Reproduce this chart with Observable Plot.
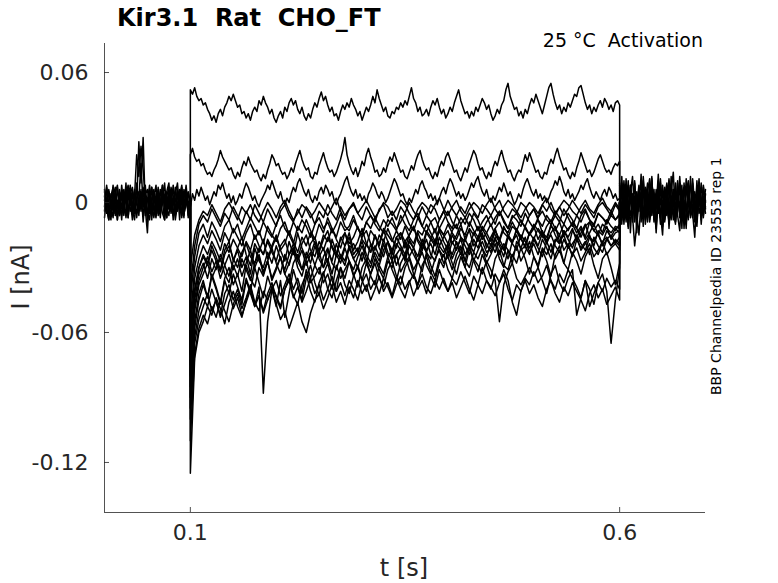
<!DOCTYPE html>
<html>
<head>
<meta charset="utf-8">
<script src="https://cdn.jsdelivr.net/npm/d3@7"></script>
<script src="https://cdn.jsdelivr.net/npm/@observablehq/plot@0.6"></script>
<style>
  html, body { margin: 0; padding: 0; background: white; }
</style>
</head>
<body>
<div id="chart"></div>
<script>
// ---- Data (current in pA; converted to nA for plotting) ----
const titleText = "Kir3.1  Rat  CHO_FT";
const conditionText = "25 °C  Activation";
const sourceText = "BBP Channelpedia ID 23553 rep 1";
const xLabel = "t [s]";
const yLabel = "I [nA]";

const xTicks = [0.1, 0.6];
const xTickLabels = ["0.1", "0.6"];
const yTicks = [-0.12, -0.06, 0, 0.06];
const yTickLabels = ["-0.12", "-0.06", "0", "0.06"];

const xDomain = [0, 0.7];
const yDomain = [-0.1431, 0.0734];

const stepStart = 0.1, stepEnd = 0.6;
const preDt = 0.0025;   // sampling of holding segment before step
const postDt = 0.0025;  // sampling of segment after step

// holding segment 0 - 0.1 s (pA)
const pre1 = [3,-5,6,-2,-7,4,8,-3,-6,2, 7,-4,1,-8,5,-1,28,9,30,-3, -14,6,-5,2,8,-6,-2,7,3,-7, 5,-1,-6,4,9,-3,-5,6,1,-4, 2];
const pre2 = [-4,7,-1,-6,5,2,-8,6,-3,4, -7,1,8,-5,3,22,12,26,15,2, -6,3,-8,5,-2,6,-5,1,9,-3, -6,4,-1,7,-4,3,8,-6,2,5, -3];
const pre3 = [6,-3,-8,4,1,-5,7,-2,5,-6, 3,8,-4,-1,6,-7,2,18,-2,5, -9,1,7,-4,-7,3,-1,8,-5,2, -3,6,-8,1,5,-2,7,-5,-1,4, 0];
const pre4 = [-7,2,5,-3,8,-6,-1,4,-8,6, 0,-5,4,7,-3,1,-6,5,-2,8, -4,-8,2,6,-3,1,-7,4,-2,5, 9,-4,2,-8,-1,6,-6,3,7,-7, -1];
const pre5 = [1,6,-4,-8,3,7,-2,-6,4,-3, 9,-7,2,5,-5,8,-3,1,-6,4, 6,-2,-6,3,-4,7,1,-5,-8,4, -2,7,3,-6,5,-3,1,-7,8,-2, 4];
const pre6 = [5,-2,-8,3,7,-5,1,-6,8,-1, 4,-7,6,-3,-8,2,5,-4,7,-6, 1,8,-2,-7,4,-5,6,0,-8,3, 7,-5,2,-3,6,-8,4,-1,5,-6, 1];
const pre7 = [-2,8,-6,1,-4,6,-8,3,5,-3, -6,7,-1,4,-5,9,-2,6,-9,3, 2,-5,7,-1,-6,5,-3,8,1,-7, 3,-2,8,-5,-1,4,-7,2,6,-4, -1];

// step segment 0.1 - 0.6 s (pA); first three sampled every 2.5 ms, others every 5 ms
const step01 = [52,50,53,49,47,48,45,46,43,41, 38,40,37,41,43,40,44,46,49,47, 50,47,44,45,41,42,39,41,38,42, 44,42,47,45,49,46,44,41,43,39, 37,40,42,39,44,42,46,48,45,47, 43,41,44,40,38,41,39,43,46,44, 48,51,47,49,45,42,44,40,41,38, 42,45,43,46,44,48,45,43,40,42, 38,41,44,42,45,49,46,52,48,45, 42,44,40,39,42,41,44,43,46,44, 47,45,49,53,48,46,42,44,40,41, 43,40,44,47,45,48,44,41,43,39, 41,44,42,46,49,52,47,44,41,42, 39,42,40,44,42,45,48,46,43,45, 41,38,40,43,41,45,47,52,55,49, 46,43,44,40,42,39,43,41,45,48, 46,50,47,44,41,45,49,53,55,50, 46,43,45,41,44,42,46,44,47,50, 49,53,54,50,46,43,45,41,44,42, 45,47,44,48,46,43,45,42,46,47, 45];
const step02 = [22,25,21,19,20,17,18,15,13,14, 12,15,17,20,24,21,19,17,15,16, 13,11,14,12,16,19,17,21,18,16, 14,15,12,10,13,11,15,18,22,20, 17,18,15,13,14,11,13,16,14,18, 21,24,20,17,15,16,12,11,14,13, 17,20,23,19,16,14,15,12,14,17, 20,24,30,22,18,15,13,16,12,15, 19,17,22,25,21,18,14,15,12,13, 16,14,18,21,19,23,20,17,14,15, 12,11,14,17,15,19,22,24,20,17, 15,16,13,11,14,12,16,19,17,21, 23,20,17,14,15,12,10,13,16,14, 18,21,24,22,18,15,16,13,11,14, 12,16,19,17,21,24,20,17,14,15, 12,10,13,15,14,18,22,19,23,20, 17,14,15,12,11,14,13,17,20,18, 22,25,21,18,15,16,13,11,14,12, 16,19,23,20,17,14,15,12,14,17, 20,22,19,16,14,15,13,16,18,17, 19];
const step03 = [-2,4,1,6,3,7,4,1,3,-1, 2,5,3,8,6,9,5,2,4,0, 3,-1,1,4,2,6,9,7,4,1, 3,0,-2,1,3,5,8,6,10,7, 4,2,5,1,-1,2,0,4,7,5, 9,11,8,5,3,6,2,0,3,1, 5,7,4,8,6,3,5,1,-1,2, 4,7,10,12,8,5,3,6,2,4, 1,3,0,4,6,9,7,4,2,5, 3,0,2,5,8,11,9,6,3,4, 1,-1,2,0,3,6,4,8,10,7, 5,2,4,1,3,-1,2,5,7,4, 8,11,9,6,3,5,2,4,1,3, 6,9,7,10,12,8,5,3,6,2, 0,3,1,4,7,5,9,6,3,5, 2,-1,1,4,2,6,9,11,8,5, 3,6,2,4,1,3,0,2,5,7, 10,8,12,9,5,3,6,2,4,1, 3,5,8,6,9,11,7,4,2,5, 3,1,4,6,3,7,5,2,4,1, 2];
const step04 = [-30,-15,-8,-4,-6,-1,-5,-9,-3,0, -4,-8,-2,-5,-1,-6,-9,-4,0,-3, -7,-2,1,-4,-8,-5,-1,-3,-7,-4, 0,-3,-6,-2,2,-4,-8,-3,-1,-5, -2,1,-3,-7,-4,0,-2,-6,-3,1, -1,-5,-8,-3,0,-2,-5,-1,2,-3, -6,-2,1,-4,-7,-3,0,-2,-5,-1, 2,-3,-6,-2,1,-1,-4,-7,-3,0, -2,-5,-1,2,-3,-6,-2,1,-1,-4, -6,-2,1,-3,-5,-1,2,-2,-4,0, -3];
const step05 = [-45,-25,-14,-10,-16,-9,-13,-18,-11,-8, -14,-10,-17,-12,-7,-11,-15,-9,-13,-16, -10,-6,-12,-15,-9,-13,-8,-11,-16,-10, -7,-12,-9,-14,-10,-5,-11,-13,-8,-12, -15,-9,-6,-10,-13,-8,-11,-7,-12,-9, -5,-10,-13,-7,-11,-6,-9,-14,-8,-4, -9,-12,-6,-10,-7,-11,-5,-8,-13,-9, -6,-10,-4,-8,-12,-7,-5,-9,-11,-6, -3,-8,-11,-6,-9,-4,-7,-10,-5,-8, -12,-6,-3,-8,-10,-5,-7,-9,-4,-8, -6];
const step06 = [-60,-35,-26,-20,-24,-18,-22,-27,-19,-23, -17,-21,-25,-18,-22,-15,-20,-24,-17,-21, -16,-22,-19,-13,-18,-23,-16,-20,-14,-19, -22,-15,-18,-12,-17,-21,-14,-19,-16,-11, -17,-20,-13,-16,-19,-12,-15,-18,-13,-17, -11,-16,-19,-13,-15,-10,-14,-18,-12,-15, -10,-14,-17,-12,-15,-9,-13,-16,-11,-14, -18,-12,-9,-14,-16,-11,-13,-8,-12,-15, -10,-13,-16,-11,-8,-12,-15,-10,-13,-9, -12,-16,-11,-9,-13,-10,-14,-8,-11,-13, -10];
const step07 = [-70,-45,-33,-28,-35,-26,-31,-24,-29,-34, -27,-22,-30,-25,-33,-21,-27,-30,-23,-28, -20,-26,-31,-24,-19,-27,-22,-29,-24,-18, -25,-21,-28,-17,-23,-26,-20,-16,-24,-21, -27,-19,-23,-15,-21,-25,-18,-22,-16,-20, -24,-17,-21,-14,-19,-23,-17,-20,-13,-18, -22,-15,-19,-24,-16,-13,-20,-17,-14,-21, -16,-12,-19,-22,-15,-18,-13,-17,-20,-14, -17,-12,-15,-19,-14,-11,-18,-15,-21,-13, -16,-12,-17,-14,-10,-15,-19,-13,-16,-12, -14];
const step08 = [-85,-55,-42,-36,-44,-33,-39,-46,-35,-30, -38,-33,-41,-29,-35,-39,-30,-34,-27,-36, -31,-25,-33,-37,-28,-24,-31,-27,-35,-29, -23,-30,-26,-33,-24,-28,-21,-27,-31,-25, -20,-26,-30,-23,-27,-19,-25,-22,-29,-24, -18,-25,-21,-28,-22,-17,-24,-27,-20,-23, -19,-26,-21,-17,-24,-20,-27,-22,-18,-23, -21,-16,-24,-19,-22,-28,-18,-21,-16,-23, -19,-24,-17,-21,-26,-18,-15,-22,-19,-25, -17,-21,-18,-24,-16,-20,-23,-17,-20,-18, -20];
const step09 = [-95,-62,-50,-44,-48,-40,-46,-52,-42,-38, -45,-40,-47,-36,-42,-48,-39,-88,-55,-40, -36,-43,-38,-33,-40,-35,-42,-31,-37,-34, -30,-37,-33,-40,-29,-35,-31,-27,-34,-30, -36,-28,-33,-26,-31,-35,-27,-30,-24,-32, -28,-25,-31,-27,-23,-29,-33,-26,-22,-28, -25,-31,-24,-20,-27,-30,-23,-26,-21,-28, -24,-19,-26,-30,-22,-25,-20,-27,-23,-18, -25,-29,-21,-24,-19,-26,-22,-28,-20,-24, -21,-27,-23,-19,-25,-22,-18,-24,-21,-19, -22];
const step10 = [-110,-70,-58,-52,-56,-48,-53,-45,-50,-55, -47,-42,-49,-44,-38,-46,-50,-41,-45,-39, -43,-48,-40,-36,-44,-39,-46,-41,-35,-42, -38,-45,-40,-34,-41,-37,-43,-36,-40,-45, -37,-33,-40,-36,-42,-35,-39,-44,-38,-34, -40,-36,-43,-38,-33,-39,-42,-36,-40,-35, -41,-37,-44,-39,-34,-40,-45,-38,-42,-36, -39,-43,-37,-33,-40,-45,-38,-41,-36,-42, -38,-44,-48,-40,-36,-42,-46,-39,-43,-37, -41,-45,-50,-42,-38,-44,-40,-47,-43,-39, -45];
const step11 = [-125,-72,-60,-55,-48,-52,-44,-49,-56,-46, -41,-48,-53,-45,-39,-47,-43,-50,-42,-37, -44,-49,-40,-35,-43,-47,-38,-33,-41,-46, -37,-32,-40,-44,-36,-30,-38,-42,-34,-29, -36,-41,-33,-28,-35,-39,-31,-27,-34,-38, -30,-26,-33,-38,-29,-25,-32,-36,-28,-24, -31,-35,-27,-23,-30,-34,-26,-29,-33,-27, -31,-36,-55,-38,-32,-28,-35,-38,-34,-30, -34,-30,-36,-42,-33,-29,-37,-41,-35,-31, -52,-44,-36,-40,-47,-37,-33,-41,-65,-45, -30];
const step12 = [-55,-30,-20,-15,-19,-13,-17,-22,-14,-18, -12,-16,-20,-14,-10,-17,-13,-19,-11,-15, -18,-12,-9,-15,-19,-11,-14,-8,-13,-17, -10,-14,-7,-12,-16,-9,-13,-11,-6,-12, -15,-9,-12,-7,-11,-14,-8,-10,-13,-6, -10,-13,-8,-5,-11,-14,-9,-7,-12,-8, -4,-9,-12,-7,-10,-5,-8,-13,-9,-6, -11,-7,-4,-9,-12,-6,-8,-11,-5,-9, -12,-7,-4,-8,-10,-6,-9,-3,-7,-11, -6,-9,-4,-8,-11,-5,-7,-10,-6,-8, -5];
const step13 = [-65,-40,-30,-25,-29,-22,-27,-32,-24,-20, -26,-30,-23,-19,-25,-28,-21,-24,-18,-23, -27,-20,-17,-24,-21,-26,-19,-15,-22,-25, -18,-22,-16,-20,-24,-17,-14,-21,-19,-23, -16,-13,-19,-22,-15,-18,-12,-17,-21,-14, -18,-15,-11,-17,-20,-13,-16,-19,-12,-15, -19,-13,-10,-16,-18,-12,-15,-11,-17,-14, -10,-15,-18,-12,-14,-9,-13,-17,-11,-15, -12,-8,-14,-16,-11,-13,-9,-15,-12,-10, -14,-11,-16,-9,-13,-15,-10,-12,-14,-11, -12];
const step14 = [-75,-50,-38,-33,-28,-35,-30,-26,-33,-37, -29,-34,-26,-31,-36,-28,-24,-32,-27,-35, -30,-25,-33,-28,-22,-30,-34,-26,-23,-29, -33,-25,-21,-28,-31,-24,-27,-20,-26,-30, -23,-28,-19,-25,-29,-22,-18,-26,-24,-21, -27,-20,-24,-28,-19,-23,-26,-17,-22,-25, -20,-24,-18,-22,-27,-19,-23,-16,-21,-25, -19,-23,-17,-21,-26,-18,-15,-22,-20,-24, -17,-21,-25,-18,-15,-20,-23,-17,-21,-19, -16,-22,-19,-15,-21,-24,-18,-16,-20,-17, -19];
const step15 = [-40,-20,-10,-6,-9,-3,-7,-11,-5,-8, -2,-6,-10,-4,-8,-1,-5,-9,-3,-7, -11,-4,-1,-6,-9,-3,-7,-2,-5,-10, -4,-7,-1,-5,-8,-2,-6,-3,0,-5, -8,-2,-6,-9,-3,-1,-7,-4,-8,-2, -5,0,-4,-7,-2,-6,-1,-3,-8,-4, 1,-3,-6,-2,-5,0,-4,-7,-1,-3, -6,-2,1,-4,-7,-3,-5,0,-2,-6, -3,-7,-1,-4,0,-5,-2,-6,-3,1, -2,-5,-1,-4,-7,-2,0,-3,-6,-1, -4];
const step16 = [-80,-48,-36,-30,-25,-32,-27,-35,-29,-24, -31,-26,-34,-28,-22,-30,-25,-33,-27,-21, -28,-33,-24,-29,-21,-27,-31,-23,-28,-20, -26,-30,-22,-27,-19,-25,-29,-21,-26,-23, -18,-24,-28,-20,-25,-17,-23,-27,-19,-22, -26,-18,-21,-25,-17,-22,-19,-24,-16,-21, -25,-18,-22,-16,-20,-24,-17,-21,-15,-19, -23,-17,-20,-25,-16,-19,-22,-15,-18,-21, -16,-20,-14,-18,-23,-17,-19,-13,-17,-21, -15,-19,-22,-16,-18,-14,-20,-17,-15,-19, -16];
const step17 = [-100,-65,-54,-48,-42,-50,-45,-53,-47,-41, -49,-44,-52,-46,-40,-48,-43,-51,-45,-39, -47,-54,-50,-58,-52,-46,-55,-60,-51,-45, -42,-49,-44,-38,-46,-41,-47,-39,-44,-36, -42,-38,-45,-40,-34,-41,-37,-43,-35,-40, -44,-37,-33,-40,-36,-42,-34,-39,-31,-37, -41,-35,-38,-32,-37,-42,-34,-38,-30,-36, -40,-33,-37,-31,-36,-46,-52,-41,-35,-38, -32,-37,-34,-29,-36,-40,-33,-37,-31,-35, -39,-44,-36,-48,-42,-37,-41,-35,-39,-36, -40];
const step18 = [-70,-42,-30,-24,-28,-20,-25,-31,-22,-18, -27,-21,-16,-24,-29,-19,-23,-17,-26,-20, -15,-22,-27,-18,-24,-14,-21,-26,-19,-16, -23,-17,-13,-21,-25,-16,-20,-14,-22,-18, -12,-19,-23,-15,-20,-13,-18,-24,-16,-14, -21,-15,-11,-18,-22,-14,-17,-12,-20,-16, -13,-19,-15,-10,-17,-21,-14,-18,-12,-16, -20,-13,-17,-11,-15,-19,-12,-16,-21,-14, -11,-17,-13,-18,-10,-15,-19,-13,-16,-12, -18,-14,-10,-16,-20,-13,-15,-11,-17,-14, -13];
const step19 = [-90,-58,-45,-38,-44,-34,-40,-47,-36,-42, -33,-39,-45,-35,-41,-30,-37,-44,-34,-40, -48,-36,-53,-42,-31,-38,-45,-35,-29,-37, -43,-33,-28,-36,-41,-30,-35,-27,-33,-39, -30,-26,-34,-38,-29,-33,-25,-31,-36,-28, -24,-31,-35,-27,-32,-23,-29,-34,-26,-30, -22,-28,-33,-25,-30,-21,-27,-32,-24,-29, -35,-26,-22,-29,-31,-24,-28,-21,-26,-33, -25,-30,-22,-27,-34,-24,-20,-28,-31,-23, -27,-33,-25,-21,-29,-35,-26,-23,-30,-38, -28];

// segment after step 0.6 - 0.7 s (pA)
const post1 = [8,-4,3,-9,6,1,-6,-20,-10,4, 9,-3,-8,5,11,-2,-7,6,2,-10, 8,-1,-6,10,3,-8,5,-4,12,-2, -9,7,1,-6,9,-3,-11,6,2,-7, 4];
const post2 = [-6,9,-2,7,-8,4,12,-5,-1,8, -9,3,6,-7,-2,10,-4,-12,5,8, -3,-9,4,7,-6,1,-10,9,-3,5, -8,11,-1,-5,6,-9,3,8,-4,-2, 6];
const post3 = [3,-8,10,-3,-11,7,2,-9,5,-4, 13,-6,1,9,-8,-3,6,-14,2,11, -5,7,-2,-9,5,14,-7,2,-5,8, -12,4,10,-3,-7,5,-1,11,-8,3, -5];
const post4 = [-3,6,-10,4,8,-6,-2,9,-7,1, 5,-11,7,-4,3,12,-9,-1,6,-5, -15,3,9,-2,-8,6,-4,10,-7,2, -3,-10,5,8,-5,-16,4,-2,9,-6, 1];
const post5 = [5,-2,-7,11,-4,8,-9,3,-14,6, -1,10,-6,2,-9,7,4,-3,13,-7, 1,-5,8,-12,3,-1,9,-6,-13,4, 7,-2,-8,12,-4,2,-7,6,-10,3, -2];
const post6 = [-5,12,-7,3,-12,8,-3,10,-6,-15, 2,7,-10,5,-2,11,-8,4,-5,9, -11,2,6,-7,12,-4,-9,3,8,-6, 1,-12,9,-3,4,-8,10,-5,-1,7, -3];
const post7 = [9,-10,5,-5,10,-14,4,1,-8,7, -4,12,-2,-9,8,-6,3,-11,10,-1, 5,-8,-2,11,-5,6,-9,1,7,-12, 9,-4,3,-7,11,-2,-9,5,-3,8, 0];

const preSweeps = [pre1, pre2, pre3, pre4, pre5, pre6, pre7];
const stepSweeps = [step01, step02, step03, step04, step05, step06, step07, step08, step09, step10,
                    step11, step12, step13, step14, step15, step16, step17, step18, step19];
const postSweeps = [post1, post2, post3, post4, post5, post6, post7];

// ---- Build table ----
const rows = [];
preSweeps.forEach((vals, k) => {
  vals.forEach((v, i) => rows.push({id: "pre" + k, t: i * preDt, I: v / 1000}));
});
stepSweeps.forEach((vals, k) => {
  const dt = (stepEnd - stepStart) / (vals.length - 1);
  rows.push({id: "step" + k, t: stepStart, I: 0});
  vals.forEach((v, i) => rows.push({id: "step" + k, t: stepStart + i * dt, I: v / 1000}));
  rows.push({id: "step" + k, t: stepEnd, I: 0});
});
postSweeps.forEach((vals, k) => {
  vals.forEach((v, i) => rows.push({id: "post" + k, t: stepEnd + i * postDt, I: v / 1000}));
});

const W = 778, H = 583;
const mL = 104, mR = 73, mT = 43, mB = 71;
const plotW = W - mL - mR, plotH = H - mT - mB;
const axisColor = "#262626";

const chart = Plot.plot({
  width: W,
  height: H,
  marginLeft: mL,
  marginRight: mR,
  marginTop: mT,
  marginBottom: mB,
  style: {fontFamily: "DejaVu Sans", background: "white", color: axisColor, overflow: "visible"},
  x: {domain: xDomain},
  y: {domain: yDomain},
  marks: [
    Plot.line(rows, {x: "t", y: "I", z: "id", stroke: "black", strokeWidth: 1.5}),
    Plot.ruleX([xDomain[0]], {stroke: axisColor, strokeWidth: 0.8}),
    Plot.ruleY([yDomain[0]], {stroke: axisColor, strokeWidth: 0.8}),
    Plot.tickY(yTicks, {y: d => d, insetRight: plotW - 5, stroke: axisColor, strokeWidth: 0.8}),
    Plot.tickX(xTicks, {x: d => d, insetTop: plotH - 5, stroke: axisColor, strokeWidth: 0.8}),
    Plot.axisY(yTicks, {tickSize: 0, tickPadding: 16, fontSize: 22, label: null,
      tickFormat: d => yTickLabels[yTicks.indexOf(d)], color: axisColor}),
    Plot.axisX(xTicks, {tickSize: 0, tickPadding: 12, fontSize: 22, label: null,
      tickFormat: d => xTickLabels[xTicks.indexOf(d)], color: axisColor})
  ]
});

const svg = d3.select(chart);
svg.append("text")
  .attr("x", 117).attr("y", 26).attr("text-anchor", "start")
  .attr("font-family", "DejaVu Sans").attr("font-weight", "bold").attr("font-size", 24)
  .attr("fill", "black").text(titleText);
svg.append("text")
  .attr("x", 703).attr("y", 47).attr("text-anchor", "end")
  .attr("font-family", "DejaVu Sans").attr("font-size", 19)
  .attr("fill", "black").text(conditionText);
svg.append("text")
  .attr("transform", "translate(721,395) rotate(-90)").attr("text-anchor", "start")
  .attr("font-family", "DejaVu Sans").attr("font-size", 14)
  .attr("fill", "black").text(sourceText);
svg.append("text")
  .attr("transform", "translate(29,277) rotate(-90)").attr("text-anchor", "middle")
  .attr("font-family", "DejaVu Sans").attr("font-size", 24)
  .attr("fill", axisColor).text(yLabel);
svg.append("text")
  .attr("x", 404).attr("y", 576).attr("text-anchor", "middle")
  .attr("font-family", "DejaVu Sans").attr("font-size", 24)
  .attr("fill", axisColor).text(xLabel);

document.getElementById("chart").appendChild(chart);
</script>
</body>
</html>
